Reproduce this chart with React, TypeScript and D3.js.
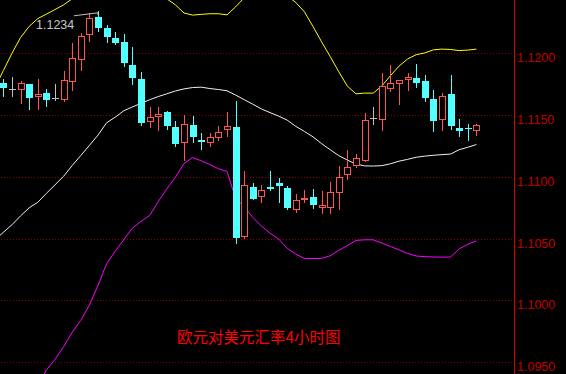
import React from 'react';
import * as d3 from 'd3';

const W = 566;
const H = 374;

// Candles (4h EUR/USD), index 0..55
const opens = [1.11763, 1.1171, 1.1171, 1.11753, 1.11658, 1.11678, 1.11637, 1.11632, 1.11779, 1.11954, 1.12158, 1.12295, 1.12202, 1.12126, 1.12093, 1.11906, 1.11793, 1.11449, 1.11489, 1.11529, 1.114, 1.11281, 1.11422, 1.11301, 1.11283, 1.11323, 1.1139, 1.11404, 1.10522, 1.1092, 1.10844, 1.10917, 1.10947, 1.10912, 1.10743, 1.10818, 1.10839, 1.10759, 1.10759, 1.10879, 1.11025, 1.11094, 1.11134, 1.11479, 1.11468, 1.11723, 1.11758, 1.11795, 1.11798, 1.11777, 1.11632, 1.11468, 1.1167, 1.11395, 1.11395, 1.11376];
const closes = [1.11723, 1.1171, 1.11758, 1.11642, 1.1167, 1.11624, 1.11637, 1.11785, 1.1196, 1.12139, 1.12282, 1.12206, 1.12134, 1.12081, 1.11919, 1.11803, 1.11434, 1.11487, 1.11508, 1.11408, 1.11267, 1.1143, 1.1132, 1.11283, 1.11323, 1.11363, 1.11414, 1.10509, 1.10933, 1.10823, 1.10896, 1.10906, 1.10925, 1.10745, 1.1081, 1.10831, 1.10772, 1.1077, 1.10879, 1.11, 1.11081, 1.11154, 1.11462, 1.11479, 1.11736, 1.11758, 1.11785, 1.11807, 1.11763, 1.11642, 1.11456, 1.11658, 1.11408, 1.11368, 1.11384, 1.11422];
const highs = [1.11793, 1.11807, 1.11779, 1.11753, 1.11793, 1.1171, 1.1175, 1.11857, 1.12085, 1.12161, 1.1233, 1.1234, 1.12228, 1.12169, 1.12153, 1.12048, 1.11852, 1.11565, 1.11565, 1.11535, 1.11454, 1.11497, 1.11489, 1.11355, 1.11355, 1.11414, 1.11524, 1.11616, 1.11051, 1.10947, 1.10938, 1.11051, 1.10992, 1.1093, 1.10858, 1.10898, 1.10906, 1.10882, 1.1096, 1.11092, 1.11215, 1.11188, 1.11516, 1.11565, 1.11844, 1.11906, 1.11785, 1.11844, 1.11914, 1.11825, 1.11704, 1.11678, 1.11825, 1.1147, 1.1143, 1.1143];
const lows = [1.11658, 1.11658, 1.11597, 1.11549, 1.11549, 1.1157, 1.11624, 1.11618, 1.11704, 1.11865, 1.12099, 1.12182, 1.12093, 1.12075, 1.119, 1.11753, 1.11422, 1.114, 1.11382, 1.1139, 1.11247, 1.11138, 1.11283, 1.11226, 1.11247, 1.11296, 1.11328, 1.10469, 1.10503, 1.10818, 1.10796, 1.10898, 1.10796, 1.10737, 1.10718, 1.10796, 1.10745, 1.1071, 1.1071, 1.10737, 1.10987, 1.11081, 1.11126, 1.11428, 1.11382, 1.11699, 1.11589, 1.11704, 1.11726, 1.11618, 1.11368, 1.11376, 1.11387, 1.11328, 1.11296, 1.11336];

// Bollinger bands, index -1..55
const bandStart = -1;
const upperBand = [1.11721, 1.11861, 1.12001, 1.12128, 1.12218, 1.12281, 1.12317, 1.12354, 1.12392, 1.12441, 1.12506, 1.12546, 1.12554, 1.12566, 1.1257, 1.1257, 1.12554, 1.12542, 1.1253, 1.12498, 1.12441, 1.12392, 1.12326, 1.12309, 1.12315, 1.1232, 1.1232, 1.12311, 1.12376, 1.12449, 1.12481, 1.12498, 1.12498, 1.12489, 1.12465, 1.12411, 1.12336, 1.12217, 1.12093, 1.11974, 1.1185, 1.11734, 1.11672, 1.11678, 1.11678, 1.11735, 1.11818, 1.11896, 1.11954, 1.11989, 1.12003, 1.12028, 1.12034, 1.12031, 1.12022, 1.12026, 1.12034];
const middleBand = [1.10491, 1.10552, 1.10613, 1.10685, 1.1075, 1.10795, 1.10867, 1.10936, 1.11005, 1.11092, 1.11173, 1.11255, 1.11338, 1.11438, 1.11483, 1.11535, 1.11566, 1.11595, 1.11624, 1.1165, 1.11672, 1.11695, 1.11712, 1.11723, 1.11726, 1.11715, 1.11707, 1.11697, 1.11662, 1.11625, 1.11588, 1.1155, 1.1152, 1.11492, 1.11459, 1.11409, 1.11368, 1.11324, 1.11269, 1.1122, 1.11172, 1.11136, 1.11104, 1.11089, 1.11088, 1.11091, 1.11106, 1.11127, 1.11142, 1.11159, 1.11168, 1.11175, 1.1118, 1.11185, 1.1122, 1.1124, 1.11262];
const lowerBand = [1.09262, 1.09245, 1.09229, 1.09245, 1.09282, 1.0931, 1.09438, 1.09523, 1.09626, 1.09743, 1.09839, 1.09963, 1.10121, 1.10298, 1.10399, 1.10492, 1.10586, 1.1064, 1.10687, 1.10799, 1.10904, 1.10996, 1.11108, 1.11157, 1.1113, 1.111, 1.11066, 1.11044, 1.10827, 1.10758, 1.10672, 1.10603, 1.10545, 1.10498, 1.10422, 1.10375, 1.1034, 1.1034, 1.1034, 1.10362, 1.10407, 1.10444, 1.10486, 1.10491, 1.10491, 1.10465, 1.10437, 1.1041, 1.10381, 1.1036, 1.10355, 1.10352, 1.10351, 1.10352, 1.10418, 1.10454, 1.10483];

const yTicks = [1.095, 1.1, 1.105, 1.11, 1.115, 1.12];
const title = '欧元对美元汇率4小时图';
const highLabel = '1.1234';
const highIndex = 11;

const RED = '#ff5454';
const CYAN = '#54ffff';
const GRAY = '#c0c0c0';

export default function App() {
  const x = d3.scaleLinear().domain([0, 55]).range([3.4, 476.4]);
  const y = d3.scaleLinear().domain([1.095, 1.12]).range([362.3, 53.3]);
  const fmt = d3.format('.4f');

  const bandLine = d3
    .line<number>()
    .x((_, i) => x(i + bandStart))
    .y((d) => y(d));

  const axisX = 514.5;

  const candles = opens.map((o, i) => {
    const c = closes[i];
    const h = highs[i];
    const l = lows[i];
    const cx = Math.round(x(i));
    const color = c > o ? RED : c < o ? CYAN : GRAY;
    const top = Math.round(y(Math.max(o, c)));
    const bot = Math.round(y(Math.min(o, c)));
    const yh = Math.round(y(h));
    const yl = Math.round(y(l));
    let body: React.ReactNode;
    if (c > o) {
      body = (
        <rect x={cx - 2.5} y={top + 0.5} width={6} height={Math.max(1, bot - top)} fill="#000" stroke={color} strokeWidth={1} />
      );
    } else if (c < o) {
      body = <rect x={cx - 3} y={top} width={7} height={Math.max(1, bot - top)} fill={color} />;
    } else {
      body = <line x1={cx - 3} x2={cx + 4} y1={top + 0.5} y2={top + 0.5} stroke={color} strokeWidth={1} />;
    }
    return (
      <g key={i}>
        <line x1={cx + 0.5} x2={cx + 0.5} y1={yh} y2={yl + 1} stroke={color} strokeWidth={1} />
        {body}
      </g>
    );
  });

  const hx = Math.round(x(highIndex));
  const hy = y(highs[highIndex]);

  return (
    <svg
      width={W}
      height={H}
      style={{ position: 'absolute', left: 0, top: 0, display: 'block', background: '#000' }}
    >
      <rect x={0} y={0} width={W} height={H} fill="#000" />
      {yTicks.map((t) => {
        const gy = Math.floor(y(t) + 0.4) + 0.5;
        return (
          <g key={t}>
            <line x1={1} x2={axisX - 3} y1={gy} y2={gy} stroke="#8b0000" strokeWidth={1} strokeDasharray="1,2" shapeRendering="crispEdges" />
            <text x={517} y={gy + 8} fill="#c00000" fontFamily="'Liberation Sans', Arial, sans-serif" fontSize={12.5}>
              {fmt(t)}
            </text>
          </g>
        );
      })}
      <line x1={axisX} x2={axisX} y1={0} y2={H} stroke="#d80000" strokeWidth={1} shapeRendering="crispEdges" />

      <path d={bandLine(upperBand) || ''} fill="none" stroke="#ffff00" strokeWidth={1} />
      <path d={bandLine(middleBand) || ''} fill="none" stroke="#f0f0f0" strokeWidth={1} />
      <path d={bandLine(lowerBand) || ''} fill="none" stroke="#ff00ff" strokeWidth={1} />

      {candles}

      <polyline
        points={`${hx - 24},${hy + 4.5} ${hx},${hy + 1.5} ${hx},${hy + 4}`}
        fill="none"
        stroke={GRAY}
        strokeWidth={1}
      />
      <text x={hx - 62} y={hy + 18} fill="#c8c8c8" fontFamily="'Liberation Sans', Arial, sans-serif" fontSize={12.5}>
        {highLabel}
      </text>

      <text x={177} y={343} fill="#ff0000" fontFamily="'Noto Sans CJK SC', sans-serif" fontSize={15.5}>
        {title}
      </text>
    </svg>
  );
}
